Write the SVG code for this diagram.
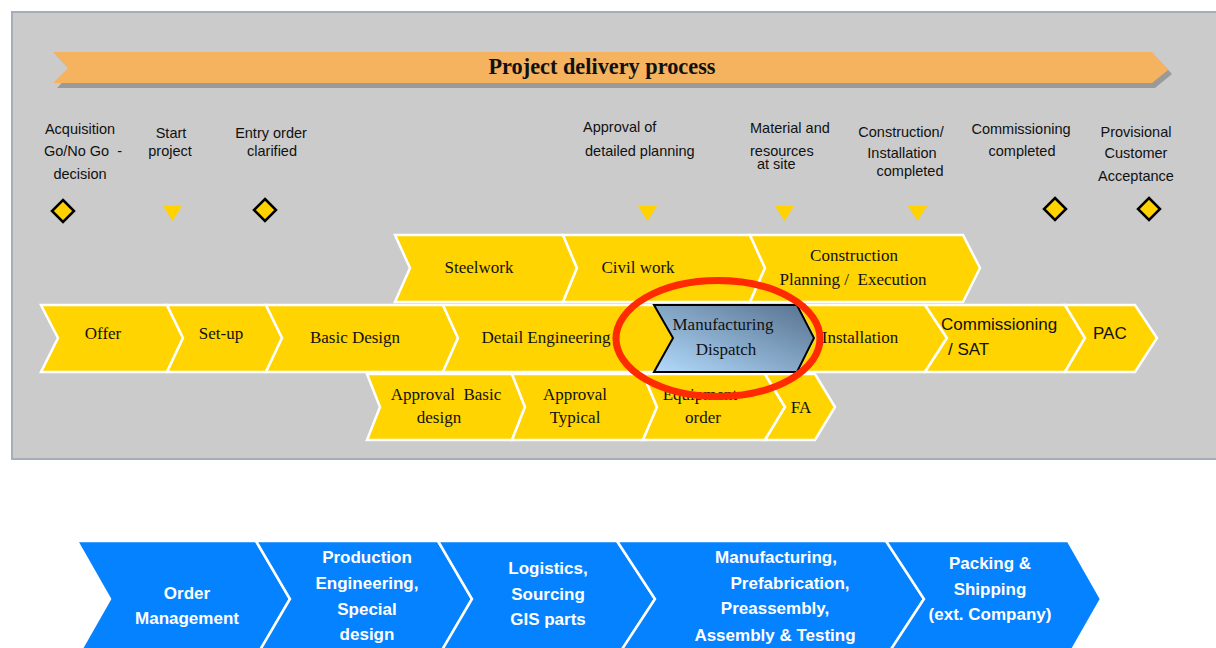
<svg xmlns="http://www.w3.org/2000/svg" width="1216" height="648" viewBox="0 0 1216 648">
<defs>
<linearGradient id="mg" x1="0" y1="1" x2="1" y2="0">
<stop offset="0" stop-color="#b2dafc"/>
<stop offset="1" stop-color="#56718e"/>
</linearGradient>
<style>
.ms{font-family:"Liberation Sans",Arial,sans-serif;font-size:14.5px;fill:#111}
.ch{fill:#ffd400;stroke:#fff;stroke-width:2.5}
.ct{font-family:"Liberation Serif","Times New Roman",serif;font-size:17px;fill:#111;text-anchor:middle}
.ca{font-family:"Liberation Sans",Arial,sans-serif;font-size:17px;fill:#111}
.bc{fill:#0582ff;stroke:#fff;stroke-width:2.5}
.bt{font-family:"Liberation Sans",Arial,sans-serif;font-size:17px;font-weight:bold;fill:#fff;text-anchor:middle}
.dia{fill:#ffd200;stroke:#000;stroke-width:2.5}
.tri{fill:#ffd200}
.pre{white-space:pre}
</style>
</defs>
<rect x="12" y="12" width="1220" height="447" fill="#cbcbcb" stroke="#a6adb8" stroke-width="2"/>
<g id="banner">
<polygon points="57,56 1155,56 1172,74 1155,88 57,88 72,72" fill="#9a9a9a"/>
<polygon points="53,52 1152,52 1168,70 1152,83 53,83 68,68" fill="#f6b35f"/>
<text x="602" y="74" font-family="Liberation Serif,'Times New Roman',serif" font-size="22.3" font-weight="bold" text-anchor="middle" fill="#111">Project delivery process</text>
</g>
<g id="milestones">
<g id="m1"><text class="ms pre" text-anchor="middle"><tspan x="80" y="134">Acquisition</tspan><tspan x="83" y="156">Go/No Go  -</tspan><tspan x="80" y="179">decision</tspan></text><polygon class="dia" points="63,200 74,211 63,222 52,211"/></g>
<g id="m2"><text class="ms" text-anchor="middle"><tspan x="171" y="138">Start</tspan><tspan x="170" y="156">project</tspan></text><polygon class="tri" points="163,206 182,206 172.5,221"/></g>
<g id="m3"><text class="ms" text-anchor="middle"><tspan x="271" y="138">Entry order</tspan><tspan x="272" y="156">clarified</tspan></text><polygon class="dia" points="265,199 276,210 265,221 254,210"/></g>
<g id="m4"><text class="ms"><tspan x="583" y="132">Approval of</tspan><tspan x="585" y="156">detailed planning</tspan></text><polygon class="tri" points="638,206 657,206 647.5,221"/></g>
<g id="m5"><text class="ms"><tspan x="750" y="133">Material and</tspan><tspan x="750" y="156">resources</tspan><tspan x="757" y="169">at site</tspan></text><polygon class="tri" points="775,206 794,206 784.5,221"/></g>
<g id="m6"><text class="ms" text-anchor="middle"><tspan x="901" y="137">Construction/</tspan><tspan x="902" y="158">Installation</tspan><tspan x="910" y="176">completed</tspan></text><polygon class="tri" points="908,206 927,206 917.5,221"/></g>
<g id="m7"><text class="ms" text-anchor="middle"><tspan x="1021" y="134">Commissioning</tspan><tspan x="1022" y="156">completed</tspan></text><polygon class="dia" points="1055,198 1066,209 1055,220 1044,209"/></g>
<g id="m8"><text class="ms" text-anchor="middle"><tspan x="1136" y="137">Provisional</tspan><tspan x="1136" y="158">Customer</tspan><tspan x="1136" y="181">Acceptance</tspan></text><polygon class="dia" points="1149,198 1160,209 1149,220 1138,209"/></g>
</g>
<g id="connectors"></g>
<g id="top-row">
<g id="steelwork"><polygon class="ch" points="395,235 563,235 577,268 563,302 395,302 410,268"/><text class="ct" x="479" y="273">Steelwork</text></g>
<g id="civil"><polygon class="ch" points="563,235 750,235 765,268 750,302 563,302 577,268"/><text class="ct" x="638" y="273">Civil work</text></g>
<g id="construction"><polygon class="ch" points="750,235 963,235 980,268 963,302 750,302 765,268"/><text class="ct pre"><tspan x="854" y="261">Construction</tspan><tspan x="853" y="285">Planning /  Execution</tspan></text></g>
</g>
<g id="mid-row">
<g id="offer"><polygon class="ch" points="41,305 167,305 183,338 167,372 41,372 58,338"/><text class="ct" x="103" y="339">Offer</text></g>
<g id="setup"><polygon class="ch" points="167,305 266,305 282,338 266,372 167,372 183,338"/><text class="ct" x="221" y="339">Set-up</text></g>
<g id="basic"><polygon class="ch" points="266,305 443,305 458,338 443,372 266,372 282,338"/><text class="ct" x="355" y="343">Basic Design</text></g>
<g id="detail"><polygon class="ch" points="443,305 797,305 814,338 797,372 443,372 458,338"/><text class="ct" x="546" y="343">Detail Engineering</text></g>
<g id="installation"><polygon class="ch" points="797,305 925,305 947,338 925,372 797,372 814,338"/><text class="ct" x="860" y="343">Installation</text></g>
<g id="commissioning"><polygon class="ch" points="925,305 1065,305 1085,338 1065,372 925,372 947,338"/><text class="ca"><tspan x="941" y="330">Commissioning</tspan><tspan x="948" y="355">/ SAT</tspan></text></g>
<g id="pac"><polygon class="ch" points="1065,305 1135,305 1157,338 1135,372 1065,372 1085,338"/><text class="ca" x="1093" y="339">PAC</text></g>
</g>
<g id="bottom-row">
<g id="apbasic"><polygon class="ch" points="367,374 512,374 525,407 512,440 367,440 380,407"/><text class="ct pre"><tspan x="446" y="400">Approval  Basic</tspan><tspan x="439" y="423">design</tspan></text></g>
<g id="aptyp"><polygon class="ch" points="512,374 643,374 657,407 643,440 512,440 525,407"/><text class="ct"><tspan x="575" y="400">Approval</tspan><tspan x="575" y="423">Typical</tspan></text></g>
<g id="equip"><polygon class="ch" points="643,374 765,374 785,407 765,440 643,440 657,407"/><text class="ct"><tspan x="700" y="400">Equipment</tspan><tspan x="703" y="423">order</tspan></text></g>
<g id="fa"><polygon class="ch" points="765,374 815,374 835,407 815,440 765,440 785,407"/><text class="ct" x="801" y="413">FA</text></g>
</g>
<g id="manufacturing">
<polygon points="654,305 797,305 814,338 797,372 654,372 673,338" fill="url(#mg)" stroke="#000" stroke-width="2"/>
<text class="ct"><tspan x="723" y="330">Manufacturing</tspan><tspan x="726" y="355">Dispatch</tspan></text>
</g>
<ellipse id="highlight" cx="718" cy="338.5" rx="102" ry="58" fill="none" stroke="#ff2a00" stroke-width="7"/>
<g id="lower-process">
<g id="order"><polygon class="bc" points="77,541 256,541 290,599 256,657 77,657 110,599"/><text class="bt"><tspan x="187" y="599">Order</tspan><tspan x="187" y="624">Management</tspan></text></g>
<g id="production"><polygon class="bc" points="256,541 438,541 472,599 438,657 256,657 290,599"/><text class="bt"><tspan x="367" y="563">Production</tspan><tspan x="367" y="589">Engineering,</tspan><tspan x="367" y="615">Special</tspan><tspan x="367" y="640">design</tspan></text></g>
<g id="logistics"><polygon class="bc" points="438,541 617,541 655,599 617,657 438,657 472,599"/><text class="bt"><tspan x="548" y="574">Logistics,</tspan><tspan x="548" y="600">Sourcing</tspan><tspan x="548" y="625">GIS parts</tspan></text></g>
<g id="manuf"><polygon class="bc" points="617,541 886,541 924,599 886,657 617,657 655,599"/><text class="bt"><tspan x="776" y="563">Manufacturing,</tspan><tspan x="790" y="589">Prefabrication,</tspan><tspan x="775" y="614">Preassembly,</tspan><tspan x="775" y="641">Assembly &amp; Testing</tspan></text></g>
<g id="packing"><polygon class="bc" points="886,541 1068,541 1101,599 1068,657 886,657 924,599"/><text class="bt"><tspan x="990" y="569">Packing &amp;</tspan><tspan x="990" y="595">Shipping</tspan><tspan x="990" y="620">(ext. Company)</tspan></text></g>
</g>
</svg>
